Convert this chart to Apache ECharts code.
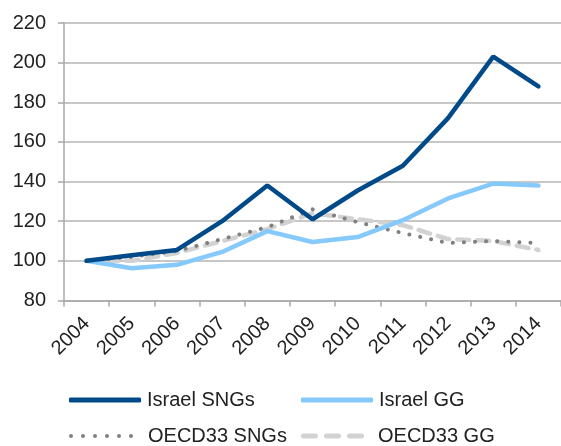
<!DOCTYPE html>
<html><head><meta charset="utf-8">
<script src="https://cdn.jsdelivr.net/npm/echarts@6/dist/echarts.min.js"></script>
<style>html,body{margin:0;padding:0;background:#fff}#c{width:561px;height:446px}</style>
</head><body><div id="c"></div>
<script>
const years = ['2004','2005','2006','2007','2008','2009','2010','2011','2012','2013','2014'];
const israelSNGs = [100, 102.8, 105.5, 120, 138, 121, 135.5, 148, 172, 203, 188];
const israelGG = [100, 96.3, 98, 104.5, 115, 109.5, 112, 120.5, 131.5, 139, 138];
const oecdSNGs = [100, 102, 105, 111, 117, 126, 119.5, 114, 109, 110, 109];
const oecdGG = [100, 100, 104, 110, 116, 124, 121, 118, 111, 110, 105.5];
const names = ['Israel SNGs','Israel GG','OECD33 SNGs','OECD33 GG'];
const yTicks = {min: 80, max: 220, interval: 20};

const font = 'Liberation Sans, Arial, sans-serif';
const dotIcon = 'path://' + [2,14,26,38,50,62].map(c => 'M' + (c-2) + ',2a2,2 0 1,0 4,0a2,2 0 1,0 -4,0z').join(' ');
const dashIcon = 'path://' + [0,23,46].map(x => 'M' + (x+2.5) + ',0h12a2.5,2.5 0 0 1 0,5h-12a2.5,2.5 0 0 1 0,-5z').join(' ');
const chart = echarts.init(document.getElementById('c'));
function leg(name, icon, left, top, w, h, pad){
  return {data:[{name:name, icon:icon}], left:left, top:top, itemWidth:w, itemHeight:h, itemGap:0,
    itemStyle:{borderWidth:0},
    textStyle:{fontFamily:font, fontSize:20, color:'#222', padding:[0,0,0,pad]}, padding:0, selectedMode:false};
}
chart.setOption({
  animation:false,
  grid:{left:64, right:-5, top:23, bottom:145.5},
  xAxis:{type:'category', data:years, boundaryGap:true,
    axisLine:{lineStyle:{color:'#a8a8a8', width:1.5}},
    axisTick:{show:true, length:6, lineStyle:{color:'#a8a8a8', width:1.5}},
    axisLabel:{rotate:45, fontFamily:font, fontSize:20, color:'#222', margin:20, interval:0}},
  yAxis:{type:'value', min:yTicks.min, max:yTicks.max, interval:yTicks.interval,
    axisLine:{show:true, lineStyle:{color:'#a8a8a8', width:1.5}},
    axisTick:{show:true, length:6, lineStyle:{color:'#a8a8a8', width:1.5}},
    splitLine:{lineStyle:{color:'#b4b4b4', width:1.5}},
    axisLabel:{fontFamily:font, fontSize:20, color:'#222', margin:18}},
  legend:[
    leg(names[0], 'roundRect', 69, 390, 72, 5, 1),
    leg(names[1], 'roundRect', 301, 390, 72, 5, 1),
    leg(names[2], dotIcon, 69, 426, 64, 4, 10),
    leg(names[3], dashIcon, 301, 426, 63, 5, 9)],
  series:[
    {name:names[3], type:'line', data:oecdGG, symbol:'none', z:2,
      lineStyle:{color:'#d2d2d2', width:4.5, type:[12,8], cap:'round'}, itemStyle:{color:'#d2d2d2'}},
    {name:names[2], type:'line', data:oecdSNGs, symbol:'none', z:3,
      lineStyle:{color:'#808080', width:4, type:[0.1,11], cap:'round'}, itemStyle:{color:'#808080'}},
    {name:names[1], type:'line', data:israelGG, symbol:'none', z:4,
      lineStyle:{color:'#86c9fc', width:4.5, cap:'round'}, itemStyle:{color:'#86c9fc'}},
    {name:names[0], type:'line', data:israelSNGs, symbol:'none', z:5,
      lineStyle:{color:'#004a8a', width:4.5, cap:'round'}, itemStyle:{color:'#004a8a'}}
  ]
});
</script></body></html>
